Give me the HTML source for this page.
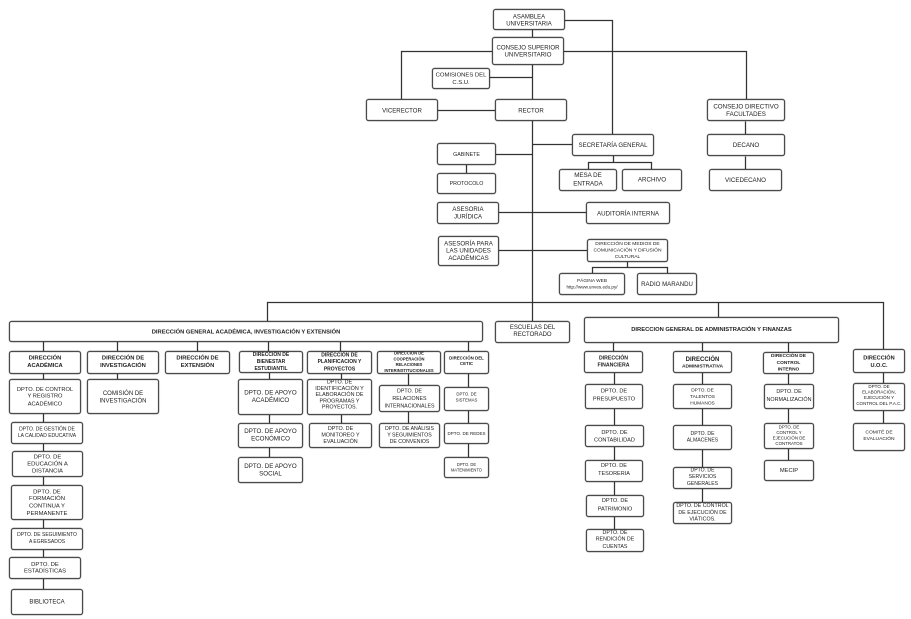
<!DOCTYPE html>
<html>
<head>
<meta charset="utf-8">
<style>
html,body{margin:0;padding:0;background:#fff;}
svg{display:block;}
rect{fill:#fff;stroke:#4a4a4a;stroke-width:1.2;filter:drop-shadow(0.6px 0.6px 0.4px rgba(0,0,0,0.35));}
path{stroke:#333;stroke-width:1.25;fill:none;}
text{font-family:"Liberation Sans",Arial,sans-serif;fill:#222;text-anchor:middle;}
.b{font-weight:bold;}
</style>
</head>
<body>
<svg width="911" height="619" viewBox="0 0 911 619" xmlns="http://www.w3.org/2000/svg">
<g transform="translate(.5 .5)">
<!-- connectors -->
<path d="M532 29V37 M564 20H612V134 M401 99V51H492 M563 51H746V99 M532 64V321 M489 77H532 M437 110H495 M495 154H532 M532 144H572 M466 164V173 M498 212H586 M498 250H587 M613 155V162 M588 169V162H651V169 M627 261V267 M592 273V267H667V273 M745 121V134 M745 156V169 M267 321V302H883V350 M718 302V317 M43 341V351 M117 341V351 M197 341V351 M268 341V351 M340 341V351 M468 341V351 M43 373V589 M117 373V379 M269 372V457 M341 373V423 M408 373V423 M468 373V457 M613 342V351 M614 372V529 M702 342V502 M788 342V460 M883 372V423"/>

<!-- top -->
<rect x="493" y="9" width="71" height="20" rx="2"/>
<text font-size="6"><tspan x="528.5" y="17.8">ASAMBLEA</tspan><tspan x="528.5" y="24.8">UNIVERSITARIA</tspan></text>

<rect x="492" y="37" width="71" height="27" rx="2"/>
<text font-size="6.1"><tspan x="527.5" y="48.8">CONSEJO SUPERIOR</tspan><tspan x="527.5" y="56.1">UNIVERSITARIO</tspan></text>

<rect x="432" y="68" width="57" height="20" rx="2"/>
<text font-size="5.9"><tspan x="460.5" y="76">COMISIONES DEL</tspan><tspan x="460.5" y="83.7">C.S.U.</tspan></text>

<rect x="366" y="99" width="71" height="21" rx="2"/>
<text font-size="6.1" x="401.5" y="112.1">VICERECTOR</text>

<rect x="495" y="99" width="71" height="21" rx="2"/>
<text font-size="6.1" x="530.5" y="112.1">RECTOR</text>

<rect x="707" y="99" width="77" height="21" rx="2"/>
<text font-size="6.2"><tspan x="745.5" y="108.1">CONSEJO DIRECTIVO</tspan><tspan x="745.5" y="115.4">FACULTADES</tspan></text>

<rect x="707" y="134" width="77" height="21" rx="2"/>
<text font-size="6.2" x="745.5" y="146.4">DECANO</text>

<rect x="709" y="169" width="72" height="21" rx="2"/>
<text font-size="6.2" x="745" y="181.5">VICEDECANO</text>

<rect x="572" y="134" width="81" height="21" rx="2"/>
<text font-size="6.1" x="612.5" y="146.5">SECRETARÍA GENERAL</text>

<rect x="559" y="169" width="57" height="21" rx="2"/>
<text font-size="6.2"><tspan x="587.5" y="176.7">MESA DE</tspan><tspan x="587.5" y="184.8">ENTRADA</tspan></text>

<rect x="622" y="169" width="59" height="21" rx="2"/>
<text font-size="6.2" x="651.5" y="181">ARCHIVO</text>

<rect x="437" y="143" width="58" height="21" rx="2"/>
<text font-size="5.3" x="466" y="155.6">GABINETE</text>

<rect x="437" y="173" width="58" height="20" rx="2"/>
<text font-size="5.3" x="466" y="184.6">PROTOCOLO</text>

<rect x="437" y="202" width="61" height="21" rx="2"/>
<text font-size="6.1"><tspan x="467.5" y="210.4">ASESORIA</tspan><tspan x="467.5" y="218.1">JURÍDICA</tspan></text>

<rect x="586" y="202" width="83" height="21" rx="2"/>
<text font-size="6.2" x="627.5" y="214.8">AUDITORÍA INTERNA</text>

<rect x="438" y="236" width="60" height="29" rx="2"/>
<text font-size="6.1"><tspan x="468" y="244.8">ASESORÍA PARA</tspan><tspan x="468" y="252.1">LAS UNIDADES</tspan><tspan x="468" y="259.4">ACADÉMICAS</tspan></text>

<rect x="587" y="239" width="80" height="22" rx="2"/>
<text font-size="4.9"><tspan x="627" y="244.5">DIRECCIÓN DE MEDIOS DE</tspan><tspan x="627" y="250.9">COMUNICACIÓN Y DIFUSIÓN</tspan><tspan x="627" y="257.5">CULTURAL</tspan></text>

<rect x="559" y="273" width="65" height="21" rx="2"/>
<text><tspan font-size="4.8" x="591.5" y="281.7">PÁGINA WEB</tspan><tspan font-size="4.6" x="591.5" y="288">http://www.unves.edu.py/</tspan></text>

<rect x="637" y="273" width="59" height="21" rx="2"/>
<text font-size="6.1" x="666.5" y="285.5">RADIO MARANDU</text>

<!-- general directions -->
<rect x="9" y="321" width="473" height="20" rx="2"/>
<text class="b" font-size="5.8" x="245.5" y="333.1">DIRECCIÓN GENERAL ACADÉMICA, INVESTIGACIÓN Y EXTENSIÓN</text>

<rect x="495" y="321" width="74" height="21" rx="2"/>
<text font-size="6"><tspan x="532" y="328.3">ESCUELAS DEL</tspan><tspan x="532" y="335.6">RECTORADO</tspan></text>

<rect x="584" y="317" width="254" height="25" rx="2"/>
<text class="b" font-size="5.8" x="711" y="330.6">DIRECCION GENERAL DE ADMINISTRACIÓN Y FINANZAS</text>

<!-- academic directions -->
<rect x="9" y="351" width="71" height="22" rx="2"/>
<text class="b" font-size="5.8"><tspan x="44.5" y="358.8">DIRECCIÓN</tspan><tspan x="44.5" y="366.4">ACADÉMICA</tspan></text>

<rect x="87" y="351" width="71" height="22" rx="2"/>
<text class="b" font-size="5.8"><tspan x="122.5" y="358.8">DIRECCIÓN  DE</tspan><tspan x="122.5" y="366.4">INVESTIGACIÓN</tspan></text>

<rect x="165" y="351" width="64" height="22" rx="2"/>
<text class="b" font-size="5.8"><tspan x="197" y="358.8">DIRECCIÓN DE</tspan><tspan x="197" y="366.4">EXTENSIÓN</tspan></text>

<rect x="239" y="351" width="63" height="21" rx="2"/>
<text class="b" font-size="5"><tspan x="270.5" y="355.3">DIRECCIÓN DE</tspan><tspan x="270.5" y="362.5">BIENESTAR</tspan><tspan x="270.5" y="369.3">ESTUDIANTIL</tspan></text>

<rect x="307" y="351" width="64" height="22" rx="2"/>
<text class="b" font-size="5"><tspan x="339" y="355.8">DIRECCIÓN DE</tspan><tspan x="339" y="362.5">PLANIFICACION Y</tspan><tspan x="339" y="370">PROYECTOS</tspan></text>

<rect x="377" y="351" width="63" height="22" rx="2"/>
<text class="b" font-size="4.1"><tspan x="408.5" y="354">DIRECCION DE</tspan><tspan x="408.5" y="359.8">COOPERACIÓN</tspan><tspan x="408.5" y="365.5">RELACIONES</tspan><tspan x="408.5" y="371.3">INTERINSTITUCIONALES</tspan></text>

<rect x="444" y="351" width="44" height="22" rx="2"/>
<text class="b" font-size="4.4"><tspan x="466" y="359">DIRECCIÓN DEL</tspan><tspan x="466" y="364.3">CETIC</tspan></text>

<!-- académica column -->
<rect x="9" y="379" width="71" height="34" rx="2"/>
<text font-size="5.7"><tspan x="44.5" y="390.4">DPTO. DE CONTROL</tspan><tspan x="44.5" y="397.1">Y REGISTRO</tspan><tspan x="44.5" y="404.8">ACADÉMICO</tspan></text>

<rect x="11" y="422" width="71" height="21" rx="2"/>
<text font-size="5"><tspan x="46.5" y="430">DPTO. DE GESTIÓN DE</tspan><tspan x="46.5" y="436.7">LA CALIDAD EDUCATIVA</tspan></text>

<rect x="12" y="451" width="70" height="25" rx="2"/>
<text font-size="5.9"><tspan x="47" y="457.8">DPTO. DE</tspan><tspan x="47" y="464.8">EDUCACIÓN A</tspan><tspan x="47" y="472.1">DISTANCIA</tspan></text>

<rect x="11" y="485" width="71" height="34" rx="2"/>
<text font-size="5.9"><tspan x="46.5" y="492.8">DPTO. DE</tspan><tspan x="46.5" y="499.6">FORMACIÓN</tspan><tspan x="46.5" y="506.9">CONTINUA Y</tspan><tspan x="46.5" y="514.4">PERMANENTE</tspan></text>

<rect x="11" y="528" width="71" height="21" rx="2"/>
<text font-size="5"><tspan x="46.5" y="535.7">DPTO. DE SEGUIMIENTO</tspan><tspan x="46.5" y="542.3">A EGRESADOS</tspan></text>

<rect x="9" y="557" width="71" height="21" rx="2"/>
<text font-size="5.9"><tspan x="44.5" y="565.4">DPTO. DE</tspan><tspan x="44.5" y="572.1">ESTADÍSTICAS</tspan></text>

<rect x="11" y="589" width="71" height="25" rx="2"/>
<text font-size="6" x="46.5" y="602.8">BIBLIOTECA</text>

<rect x="87" y="379" width="71" height="34" rx="2"/>
<text font-size="6"><tspan x="122.5" y="394.4">COMISIÓN DE</tspan><tspan x="122.5" y="401.8">INVESTIGACIÓN</tspan></text>

<!-- bienestar -->
<rect x="238" y="379" width="64" height="35" rx="2"/>
<text font-size="6.2"><tspan x="270" y="394">DPTO. DE APOYO</tspan><tspan x="270" y="401.7">ACADÉMICO</tspan></text>

<rect x="238" y="423" width="64" height="24" rx="2"/>
<text font-size="6.2"><tspan x="270" y="432.3">DPTO. DE APOYO</tspan><tspan x="270" y="440">ECONÓMICO</tspan></text>

<rect x="238" y="457" width="64" height="25" rx="2"/>
<text font-size="6.2"><tspan x="270" y="467.3">DPTO. DE APOYO</tspan><tspan x="270" y="475">SOCIAL</tspan></text>

<!-- planificacion -->
<rect x="307" y="379" width="64" height="35" rx="2"/>
<text font-size="5.4"><tspan x="339" y="383">DPTO. DE</tspan><tspan x="339" y="389.5">IDENTIFICACIÓN Y</tspan><tspan x="339" y="395.6">ELABORACIÓN DE</tspan><tspan x="339" y="401.9">PROGRAMAS Y</tspan><tspan x="339" y="408">PROYECTOS.</tspan></text>

<rect x="309" y="423" width="62" height="24" rx="2"/>
<text font-size="5.4"><tspan x="340" y="429.5">DPTO. DE</tspan><tspan x="340" y="436">MONITOREO Y</tspan><tspan x="340" y="442.7">EVALUACIÓN</tspan></text>

<!-- cooperacion -->
<rect x="379" y="385" width="60" height="26" rx="2"/>
<text font-size="5.3"><tspan x="409" y="392">DPTO. DE</tspan><tspan x="409" y="399.3">RELACIONES</tspan><tspan x="409" y="407">INTERNACIONALES</tspan></text>

<rect x="379" y="423" width="60" height="24" rx="2"/>
<text font-size="5.2"><tspan x="409" y="429.5">DPTO. DE ANÁLISIS</tspan><tspan x="409" y="436">Y SEGUIMIENTOS</tspan><tspan x="409" y="442.7">DE CONVENIOS</tspan></text>

<!-- cetic -->
<rect x="444" y="387" width="44" height="23" rx="2"/>
<text font-size="4.3"><tspan x="466" y="395">DPTO. DE</tspan><tspan x="466" y="401">SISTEMAS</tspan></text>

<rect x="444" y="423" width="44" height="20" rx="2"/>
<text font-size="4.5" x="466" y="434.3">DPTO. DE REDES</text>

<rect x="444" y="457" width="44" height="20" rx="2"/>
<text font-size="4.1"><tspan x="466" y="465.5">DPTO. DE</tspan><tspan x="466" y="470.8">MATENIMIENTO</tspan></text>

<!-- admin directions -->
<rect x="584" y="351" width="58" height="21" rx="2"/>
<text class="b" font-size="5.2"><tspan x="613" y="359">DIRECCIÓN</tspan><tspan x="613" y="366">FINANCIERA</tspan></text>

<rect x="673" y="351" width="58" height="21" rx="2"/>
<text class="b"><tspan font-size="6" x="702" y="360.3">DIRECCIÓN</tspan><tspan font-size="4.9" x="702" y="367">ADMINISTRATIVA</tspan></text>

<rect x="763" y="352" width="50" height="21" rx="2"/>
<text class="b" font-size="4.8"><tspan x="788" y="356.7">DIRECCIÓN DE</tspan><tspan x="788" y="363.4">CONTROL</tspan><tspan x="788" y="370">INTERNO</tspan></text>

<rect x="853" y="349" width="51" height="23" rx="2"/>
<text class="b" font-size="5.6"><tspan x="878.5" y="358.8">DIRECCIÓN</tspan><tspan x="878.5" y="366.6">U.O.C.</tspan></text>

<!-- financiera column -->
<rect x="585" y="384" width="57" height="24" rx="2"/>
<text font-size="5.6"><tspan x="613.5" y="391.8">DPTO. DE</tspan><tspan x="613.5" y="400.1">PRESUPUESTO</tspan></text>

<rect x="585" y="425" width="58" height="21" rx="2"/>
<text font-size="5.6"><tspan x="614" y="433.4">DPTO. DE</tspan><tspan x="614" y="441">CONTABILIDAD</tspan></text>

<rect x="585" y="460" width="57" height="21" rx="2"/>
<text font-size="5.5"><tspan x="613.5" y="466.7">DPTO. DE</tspan><tspan x="613.5" y="474.4">TESORERIA</tspan></text>

<rect x="586" y="495" width="57" height="21" rx="2"/>
<text font-size="5.6"><tspan x="614.5" y="501.7">DPTO. DE</tspan><tspan x="614.5" y="510">PATRIMONIO</tspan></text>

<rect x="586" y="529" width="57" height="22" rx="2"/>
<text font-size="5.3"><tspan x="614.5" y="533.4">DPTO. DE</tspan><tspan x="614.5" y="540">RENDICIÓN DE</tspan><tspan x="614.5" y="547.7">CUENTAS</tspan></text>

<!-- administrativa column -->
<rect x="673" y="384" width="58" height="24" rx="2"/>
<text font-size="4.8"><tspan x="702" y="391">DPTO. DE</tspan><tspan x="702" y="397.4">TALENTOS</tspan><tspan x="702" y="404">HUMANOS</tspan></text>

<rect x="673" y="425" width="58" height="24" rx="2"/>
<text font-size="5.1"><tspan x="702" y="434.4">DPTO. DE</tspan><tspan x="702" y="441">ALMACENES</tspan></text>

<rect x="673" y="467" width="58" height="21" rx="2"/>
<text font-size="5.1"><tspan x="702" y="471">DPTO. DE</tspan><tspan x="702" y="477.7">SERVICIOS</tspan><tspan x="702" y="484.4">GENERALES</tspan></text>

<rect x="673" y="502" width="58" height="21" rx="2"/>
<text font-size="5.3"><tspan x="702" y="506.7">DPTO. DE CONTROL</tspan><tspan x="702" y="513.4">DE EJECUCIÓN DE</tspan><tspan x="702" y="520">VIÁTICOS.</tspan></text>

<!-- control interno column -->
<rect x="764" y="384" width="49" height="24" rx="2"/>
<text font-size="5.4"><tspan x="788.5" y="392.4">DPTO. DE</tspan><tspan x="788.5" y="400.7">NORMALIZACIÓN</tspan></text>

<rect x="764" y="423" width="49" height="25" rx="2"/>
<text font-size="4.4"><tspan x="788.5" y="428">DPTO. DE</tspan><tspan x="788.5" y="433.5">CONTROL Y</tspan><tspan x="788.5" y="439">EJECUCIÓN DE</tspan><tspan x="788.5" y="444.5">CONTRATOS</tspan></text>

<rect x="764" y="460" width="49" height="20" rx="2"/>
<text font-size="5.8" x="788.5" y="471.6">MECIP</text>

<!-- uoc column -->
<rect x="853" y="383" width="51" height="27" rx="2"/>
<text font-size="4.5"><tspan x="878.5" y="387.6">DPTO. DE</tspan><tspan x="878.5" y="393">ELABORACIÓN,</tspan><tspan x="878.5" y="398.5">EJECUCIÓN Y</tspan><tspan x="878.5" y="404.5">CONTROL DEL P.A.C.</tspan></text>

<rect x="853" y="423" width="51" height="27" rx="2"/>
<text font-size="4.9"><tspan x="878.5" y="433">COMITÉ DE</tspan><tspan x="878.5" y="439.5">EVALUACIÓN</tspan></text>
</g>
</svg>
</body>
</html>
